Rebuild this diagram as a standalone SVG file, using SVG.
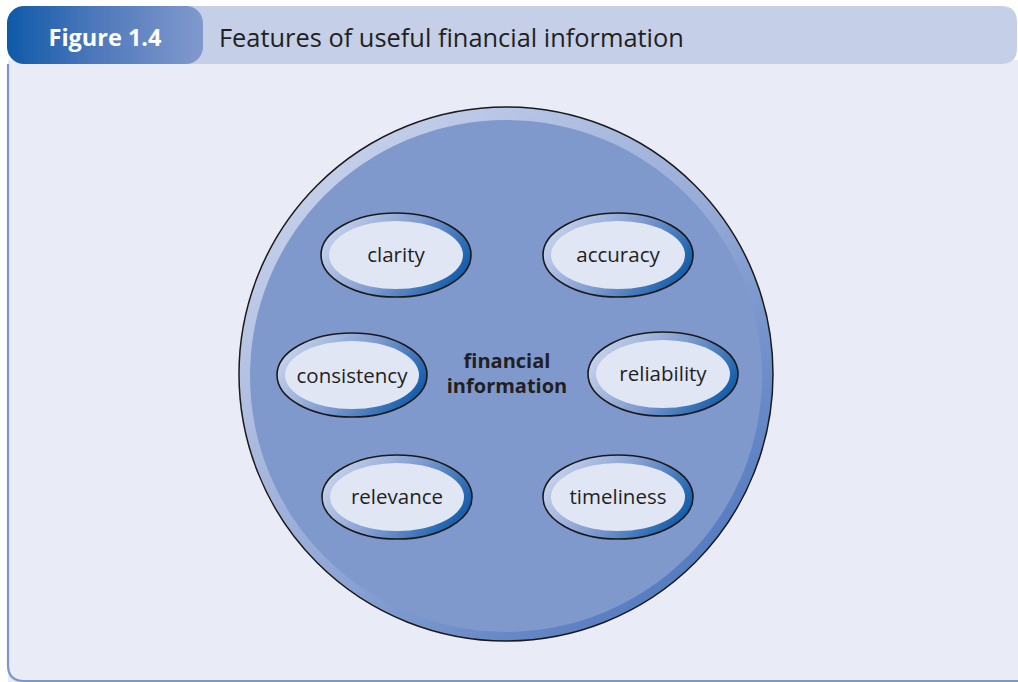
<svg xmlns="http://www.w3.org/2000/svg" width="1018" height="682" viewBox="0 0 1018 682">
<defs>
<linearGradient id="tabG" x1="0" y1="0" x2="1" y2="0">
<stop offset="0" stop-color="#0e5aa8"/>
<stop offset="0.45" stop-color="#4e78bb"/>
<stop offset="1" stop-color="#8199cd"/>
</linearGradient>
<linearGradient id="bigRing" x1="0.15" y1="0.1" x2="0.85" y2="0.9">
<stop offset="0" stop-color="#c6d0ea"/>
<stop offset="0.5" stop-color="#98acd8"/>
<stop offset="1" stop-color="#5279bf"/>
</linearGradient>
<linearGradient id="ovRing" x1="0" y1="0.3" x2="1" y2="0.7">
<stop offset="0" stop-color="#c9d3ec"/>
<stop offset="0.5" stop-color="#7f9bd0"/>
<stop offset="1" stop-color="#0b58a8"/>
</linearGradient>
<style>
.ring{fill:url(#ovRing);stroke:#1a1a1a;stroke-width:1.6}
.core{fill:#e1e6f4}
.lbl{font-family:"Open Sans","Liberation Sans",sans-serif;font-size:20.5px;fill:#231f20;text-anchor:middle}
.ctr{font-family:"Open Sans","Liberation Sans",sans-serif;font-size:20px;font-weight:bold;fill:#231f20;text-anchor:middle}
</style>
</defs>
<rect x="0" y="0" width="1018" height="682" fill="#ffffff"/>
<!-- frame body -->
<path d="M8,60 L1018,60 L1018,682 L8,682 Z" fill="#e9ebf6"/>
<path d="M8,64 L8,665 Q8,681 24,681 L1018,681" fill="none" stroke="#7f96cc" stroke-width="2.2"/>
<!-- header band -->
<path d="M150,6 L1001,6 Q1017,6 1017,22 L1017,48 Q1017,64 1001,64 L150,64 Z" fill="#c5cfe7"/>
<g id="tab">
<rect x="7" y="6" width="196" height="58" rx="17" ry="17" fill="url(#tabG)"/>
<text x="105" y="46" font-family="'Open Sans','Liberation Sans',sans-serif" font-size="23.5" font-weight="bold" fill="#ffffff" text-anchor="middle">Figure 1.4</text>
</g>
<text x="219" y="47" font-family="'Open Sans','Liberation Sans',sans-serif" font-size="25.4" fill="#231f20">Features of useful financial information</text>

<g id="financial-information">
<circle cx="506" cy="374" r="267" fill="url(#bigRing)" stroke="#1a1a1a" stroke-width="1.5"/>
<circle cx="506" cy="376" r="256" fill="#7f99cc"/>
<text class="ctr" x="507" y="368">financial</text>
<text class="ctr" x="507" y="393">information</text>
</g>

<g id="connectors"></g>

<g id="clarity">
<ellipse class="ring" cx="396" cy="255" rx="75" ry="42"/>
<ellipse class="core" cx="396" cy="255" rx="67" ry="34"/>
<text class="lbl" x="396" y="262">clarity</text>
</g>
<g id="accuracy">
<ellipse class="ring" cx="618" cy="255" rx="75" ry="42"/>
<ellipse class="core" cx="618" cy="255" rx="67" ry="34"/>
<text class="lbl" x="618" y="262">accuracy</text>
</g>
<g id="consistency">
<ellipse class="ring" cx="352" cy="375" rx="75" ry="42"/>
<ellipse class="core" cx="352" cy="375" rx="67" ry="34"/>
<text class="lbl" x="352" y="383">consistency</text>
</g>
<g id="reliability">
<ellipse class="ring" cx="663" cy="374" rx="75" ry="42"/>
<ellipse class="core" cx="663" cy="374" rx="67" ry="34"/>
<text class="lbl" x="663" y="381">reliability</text>
</g>
<g id="relevance">
<ellipse class="ring" cx="397" cy="497" rx="75" ry="42"/>
<ellipse class="core" cx="397" cy="497" rx="67" ry="34"/>
<text class="lbl" x="397" y="504">relevance</text>
</g>
<g id="timeliness">
<ellipse class="ring" cx="618" cy="497" rx="75" ry="42"/>
<ellipse class="core" cx="618" cy="497" rx="67" ry="34"/>
<text class="lbl" x="618" y="504">timeliness</text>
</g>
</svg>
